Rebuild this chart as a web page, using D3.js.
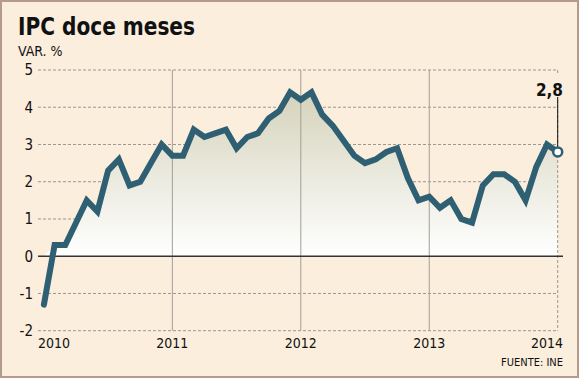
<!DOCTYPE html>
<html>
<head>
<meta charset="utf-8">
<script src="https://cdnjs.cloudflare.com/ajax/libs/d3/7.8.5/d3.min.js"></script>
<style>
  html, body { margin: 0; padding: 0; background: #fbeedd; }
  svg { display: block; }
  text { font-family: "DejaVu Sans Condensed", "DejaVu Sans", sans-serif; fill: #111; }
</style>
</head>
<body>
<div id="chart"></div>
<script>
// IPC doce meses - variacion % mensual, ene 2010 a ene 2014

const years = ['2010', '2011', '2012', '2013', '2014'];
const yTicks = [-2, -1, 0, 1, 2, 3, 4, 5];

// one value per month, starting January 2010
const ipc2010 = [-1.3, 0.3, 0.3, 0.9, 1.5, 1.2, 2.3, 2.6, 1.9, 2.0, 2.5, 3.0];
const ipc2011 = [2.7, 2.7, 3.4, 3.2, 3.3, 3.4, 2.9, 3.2, 3.3, 3.7, 3.9, 4.4];
const ipc2012 = [4.2, 4.4, 3.8, 3.5, 3.1, 2.7, 2.5, 2.6, 2.8, 2.9, 2.1, 1.5];
const ipc2013 = [1.6, 1.3, 1.5, 1.0, 0.9, 1.9, 2.2, 2.2, 2.0, 1.5, 2.4, 3.0];
const ipc2014 = [2.8];

const values = [].concat(ipc2010, ipc2011, ipc2012, ipc2013, ipc2014);

const width = 579, height = 378;

const svg = d3.select('#chart').append('svg')
    .attr('width', width)
    .attr('height', height);

// background + frame
svg.append('rect')
    .attr('x', 1).attr('y', 1)
    .attr('width', width - 2).attr('height', height - 2)
    .attr('fill', '#fbeedd')
    .attr('stroke', '#b39c8c')
    .attr('stroke-width', 2);

const x = d3.scaleLinear().domain([0, values.length - 1]).range([43.9, 557.7]);
const y = d3.scaleLinear().domain([-2, 5]).range([330.7, 70]);

// gradient for the area
const defs = svg.append('defs');
const grad = defs.append('linearGradient')
    .attr('id', 'areaGrad')
    .attr('gradientUnits', 'userSpaceOnUse')
    .attr('x1', 0).attr('x2', 0)
    .attr('y1', y(4.5)).attr('y2', y(0));
grad.append('stop').attr('offset', '0%').attr('stop-color', '#d4d2ba');
grad.append('stop').attr('offset', '100%').attr('stop-color', '#ffffff');

// horizontal dashed grid
svg.append('g')
    .selectAll('line')
    .data(yTicks.filter(d => d !== 0))
    .join('line')
    .attr('x1', 38).attr('x2', x(values.length - 1))
    .attr('y1', d => y(d)).attr('y2', d => y(d))
    .attr('stroke', '#9a9690')
    .attr('stroke-width', 1)
    .attr('stroke-dasharray', '3,2');

// area under the line (above zero)
const area = d3.area()
    .x((d, i) => x(i))
    .y0(y(0))
    .y1(d => y(Math.max(d, 0)));

svg.append('path')
    .datum(values)
    .attr('d', area)
    .attr('fill', 'url(#areaGrad)');

// year separators
const yearIdx = years.map((d, i) => i * 12);
svg.append('g')
    .selectAll('line')
    .data(yearIdx.slice(1, 4))
    .join('line')
    .attr('x1', d => x(d)).attr('x2', d => x(d))
    .attr('y1', y(5)).attr('y2', y(-2))
    .attr('stroke', '#a29e98')
    .attr('stroke-width', 1);

svg.append('line')
    .attr('x1', x(48)).attr('x2', x(48))
    .attr('y1', y(5)).attr('y2', y(-2))
    .attr('stroke', '#9a9690')
    .attr('stroke-width', 1)
    .attr('stroke-dasharray', '3,2');

// zero line
svg.append('line')
    .attr('x1', 38).attr('x2', 563)
    .attr('y1', y(0)).attr('y2', y(0))
    .attr('stroke', '#333')
    .attr('stroke-width', 1.5);

// the series
const line = d3.line()
    .x((d, i) => x(i))
    .y(d => y(d));

svg.append('path')
    .datum(values)
    .attr('d', line)
    .attr('fill', 'none')
    .attr('stroke', '#2f5f72')
    .attr('stroke-width', 6)
    .attr('stroke-linejoin', 'miter')
    .attr('stroke-miterlimit', 4)
    .attr('stroke-linecap', 'round');

// last value callout
const last = values[values.length - 1];
svg.append('rect')
    .attr('x', x(48) - 12).attr('y', 74)
    .attr('width', 24).attr('height', 25)
    .attr('fill', '#fbeedd');

svg.append('line')
    .attr('x1', x(48)).attr('x2', x(48))
    .attr('y1', 97).attr('y2', y(last))
    .attr('stroke', '#111')
    .attr('stroke-width', 1);

svg.append('circle')
    .attr('cx', x(48)).attr('cy', y(last))
    .attr('r', 4.5)
    .attr('fill', '#fff')
    .attr('stroke', '#2f5f72')
    .attr('stroke-width', 2.5);

svg.append('text')
    .attr('x', 563).attr('y', 96)
    .attr('text-anchor', 'end')
    .style('font-size', '17px')
    .style('font-weight', 'bold')
    .text(String(last).replace('.', ','));

// y labels
svg.append('g')
    .selectAll('text')
    .data(yTicks)
    .join('text')
    .attr('x', 33)
    .attr('y', d => y(d))
    .attr('dy', '0.36em')
    .attr('text-anchor', 'end')
    .style('font-size', '15px')
    .text(d => d);

// x labels
svg.append('g')
    .selectAll('text')
    .data(years)
    .join('text')
    .attr('x', (d, i) => i === 0 ? 38 : (i === years.length - 1 ? 563 : x(yearIdx[i])))
    .attr('y', 348)
    .attr('text-anchor', (d, i) => i === 0 ? 'start' : (i === years.length - 1 ? 'end' : 'middle'))
    .style('font-size', '14px')
    .text(d => d);

// titles
svg.append('text')
    .attr('x', 18).attr('y', 35)
    .attr('textLength', 177)
    .attr('lengthAdjust', 'spacingAndGlyphs')
    .style('font-size', '25px')
    .style('font-weight', 'bold')
    .text('IPC doce meses');

svg.append('text')
    .attr('x', 18).attr('y', 56)
    .style('font-size', '14px')
    .text('VAR. %');

svg.append('text')
    .attr('x', 563).attr('y', 366)
    .attr('text-anchor', 'end')
    .style('font-size', '11px')
    .text('FUENTE: INE');
</script>
</body>
</html>
